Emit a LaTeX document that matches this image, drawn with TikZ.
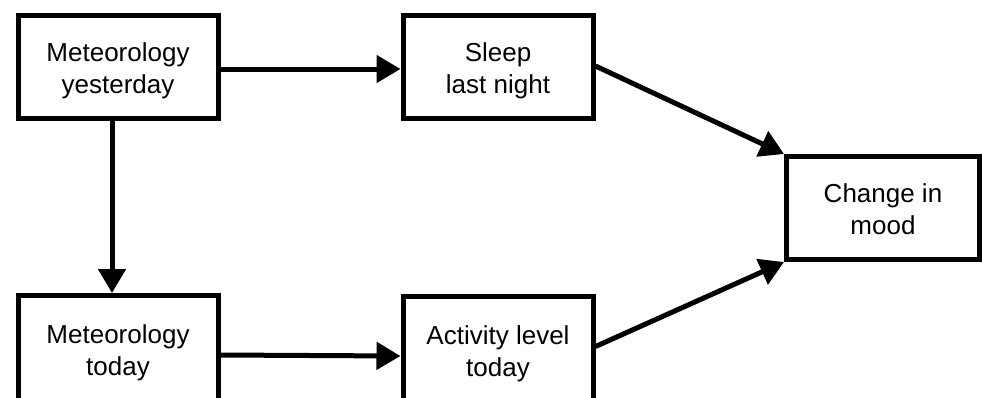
\documentclass[tikz,border=0pt]{standalone}
\usepackage{fontspec}
\setmainfont{Liberation Sans}
\usetikzlibrary{arrows.meta}
\newcommand\twolines[2]{\begin{tabular}{@{}c@{}}\rule{0pt}{30.4pt}#1\\#2\end{tabular}}
\begin{document}
\begin{tikzpicture}[x=1pt,y=-1pt,
  box/.style={draw=black,line width=5pt,fill=white,inner sep=0pt,
    font=\fontsize{26}{32}\selectfont},
  conn/.style={line width=5pt,-{Triangle[length=24pt,width=27pt]}}]
\useasboundingbox (0,0) rectangle (982,397);
\clip (0,0) rectangle (982,397);
\node[box,minimum width=200pt,minimum height=103pt] (b1) at (118,67) {\twolines{Meteorology}{yesterday}};
\node[box,minimum width=190pt,minimum height=103pt] (b2) at (498,67) {\twolines{Sleep}{last night}};
\node[box,minimum width=193pt,minimum height=103pt] (b3) at (883,208) {\twolines{Change in}{mood}};
\node[box,minimum width=200pt,minimum height=108pt] (b4) at (118,349.5) {\twolines{Meteorology}{today}};
\node[box,minimum width=190pt,minimum height=108pt] (b5) at (498,350.5) {\twolines{Activity level}{today}};
\draw[conn] ([yshift=-2pt]b1.east) -- ([yshift=-2pt]b2.west);
\draw[conn] ([xshift=-6pt]b1.south) -- ([xshift=-6pt]b4.north);
\draw[conn] ([yshift=-5.5pt]b4.east) -- ([yshift=-5.5pt]b5.west);
\draw[conn] ([yshift=1pt]b2.east) -- (b3.north west);
\draw[conn] ([yshift=4pt]b5.east) -- (b3.south west);
\end{tikzpicture}
\end{document}
